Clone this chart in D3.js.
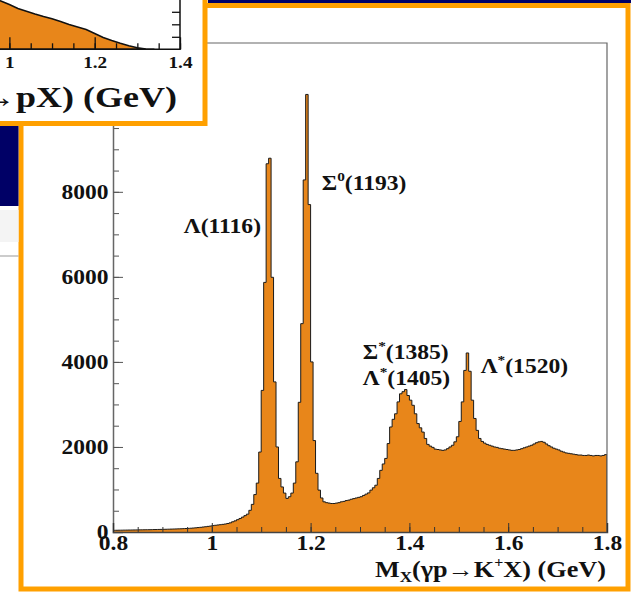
<!DOCTYPE html>
<html>
<head>
<meta charset="utf-8">
<script src="https://cdn.jsdelivr.net/npm/d3@7"></script>
<style>
body { margin: 0; background: #fff; }
svg { display: block; }
</style>
</head>
<body>
<svg id="chart" width="631" height="593"></svg>
<script>
// missing mass histogram, 5 MeV bins from 0.8 to 1.8 GeV
var binLow = 0.8, binWidth = 0.005;
var counts = [
    40, 41, 42, 43, 44, 45, 46, 47, 48, 49,
    50, 51, 52, 53, 54, 55, 57, 58, 60, 61,
    63, 64, 66, 68, 70, 72, 74, 76, 79, 82,
    85, 89, 93, 98, 104, 110, 117, 124, 132, 140,
    150, 158, 165, 172, 180, 188, 200, 215, 240, 262,
    290, 318, 350, 385, 420, 510, 650, 880, 1150, 1880,
    3330, 5870, 8660, 8790, 5990, 3530, 2000, 1260, 1060, 915,
    790, 830, 915, 1150, 1650, 3050, 4900, 8280, 10290, 7700,
    4000, 2150, 1380, 985, 800, 710, 690, 680, 670, 670,
    680, 690, 710, 720, 740, 750, 770, 785, 800, 815,
    830, 860, 890, 920, 985, 1040, 1100, 1260, 1450, 1600,
    1730, 2080, 2470, 2650, 2780, 3060, 3250, 3300, 3350, 3210,
    3100, 2980, 2780, 2550, 2450, 2350, 2200, 2060, 2020, 1990,
    1950, 1940, 1930, 1920, 1930, 1960, 2000, 2040, 2120, 2240,
    2600, 3060, 3800, 4210, 3780, 3100, 2670, 2390, 2200, 2130,
    2090, 2060, 2040, 2020, 2000, 1990, 1970, 1960, 1950, 1940,
    1930, 1920, 1920, 1930, 1940, 1960, 1980, 2000, 2020, 2040,
    2070, 2100, 2120, 2130, 2110, 2070, 2030, 2000, 1970, 1950,
    1930, 1900, 1880, 1860, 1850, 1840, 1830, 1820, 1810, 1810,
    1800, 1800, 1810, 1800, 1790, 1800, 1800, 1790, 1800, 1820
];
var xTicks = [0.8, 1, 1.2, 1.4, 1.6, 1.8];
var yTicks = [0, 2000, 4000, 6000, 8000, 10000];

// peak labels
var peakNames = ["\u039b", "\u03a3", "\u03a3", "\u039b", "\u039b"];
var peakSups = ["", "0", "*", "*", "*"];
var peakMasses = ["1116", "1193", "1385", "1405", "1520"];

// partly hidden panel behind (p X missing mass), arbitrary units
var insetMass = [0.96, 0.98, 1.00, 1.02, 1.04, 1.06, 1.08, 1.10, 1.12, 1.14, 1.16,
                 1.18, 1.20, 1.22, 1.24, 1.26, 1.28, 1.30, 1.32, 1.34];
var insetCounts = [410, 386, 358, 326, 304, 282, 262, 244, 222, 198, 178,
                   158, 126, 94, 70, 48, 28, 13, 2, 0];
var insetXTicks = [1, 1.2, 1.4];

var orange = "#e8861a",
    border = "#ffa000",
    navy = "#000066",
    serif = "'Liberation Serif', 'Times New Roman', serif";

var svg = d3.select("#chart");

// ---- main panel ----
svg.append("rect")
    .attr("x", 21).attr("y", 5.5)
    .attr("width", 607).attr("height", 583.5)
    .attr("fill", "#fff")
    .attr("stroke", border).attr("stroke-width", 5);

var x = d3.scaleLinear().domain([0.8, 1.8]).range([113, 607]),
    y = d3.scaleLinear().domain([0, 11500]).range([532, 43]);

svg.append("clipPath").attr("id", "frameClip")
    .append("rect")
    .attr("x", x.range()[0]).attr("y", y.range()[1])
    .attr("width", x.range()[1] - x.range()[0])
    .attr("height", y.range()[0] - y.range()[1]);

var pts = [[binLow, 0]];
counts.forEach(function(c, i) {
    var a = binLow + i * binWidth;
    pts.push([a, c], [a + binWidth, c]);
});
pts.push([binLow + counts.length * binWidth, 0]);

var plot = svg.append("g").attr("clip-path", "url(#frameClip)");

plot.append("path")
    .datum(pts)
    .attr("fill", orange)
    .attr("d", d3.area().x(function(d) { return x(d[0]); }).y0(y(0)).y1(function(d) { return y(d[1]); }));

plot.append("path")
    .datum(pts)
    .attr("fill", "none")
    .attr("stroke", "#1a1a1a")
    .attr("stroke-width", 1)
    .attr("d", d3.line().x(function(d) { return x(d[0]); }).y(function(d) { return y(d[1]); }));

// frame (top and right)
svg.append("path")
    .attr("fill", "none")
    .attr("stroke", "#666")
    .attr("stroke-width", 1.2)
    .attr("d", "M" + x(0.8) + "," + y(11500) + "H" + x(1.8) + "V" + y(0));

// minor ticks
var yMinor = d3.axisLeft(y).tickValues(d3.range(0, 11500, 500)).tickSize(-6).tickFormat("");
svg.append("g").attr("transform", "translate(" + x(0.8) + ",0)").call(yMinor)
    .call(function(g) { g.select(".domain").remove(); g.selectAll("line").attr("stroke", "#555"); });

var xMinor = d3.axisBottom(x).tickValues(d3.range(0.8, 1.8001, 0.05)).tickSize(-5).tickFormat("");
svg.append("g").attr("transform", "translate(0," + y(0) + ")").call(xMinor)
    .call(function(g) { g.select(".domain").remove(); g.selectAll("line").attr("stroke", "#333"); });

// major axes
var yAxis = d3.axisLeft(y).tickValues(yTicks).tickSize(-10).tickPadding(4)
    .tickFormat(function(d) { return d; });
svg.append("g").attr("transform", "translate(" + x(0.8) + ",0)").call(yAxis)
    .call(function(g) {
        g.select(".domain").attr("stroke", "#666").attr("stroke-width", 1.5);
        g.selectAll("line").attr("stroke", "#555");
        g.selectAll("text")
            .attr("font-family", serif).attr("font-weight", "bold").attr("font-size", 21)
            .attr("fill", "#111")
            .attr("transform", "scale(1.12,1)");
    });

var xAxis = d3.axisBottom(x).tickValues(xTicks).tickSize(-9).tickPadding(3)
    .tickFormat(function(d) { return d; });
svg.append("g").attr("transform", "translate(0," + y(0) + ")").call(xAxis)
    .call(function(g) {
        g.select(".domain").attr("stroke", "#444").attr("stroke-width", 1.5);
        g.selectAll("line").attr("stroke", "#333");
        g.selectAll("text")
            .attr("font-family", serif).attr("font-weight", "bold").attr("font-size", 21)
            .attr("fill", "#111")
            .attr("transform", "scale(1.12,1)");
    });

// axis title
var title = svg.append("text")
    .attr("transform", "translate(606,577) scale(1.14,1)")
    .attr("text-anchor", "end")
    .attr("font-family", serif).attr("font-weight", "bold").attr("font-size", 23)
    .attr("fill", "#111");
title.append("tspan").text("M");
title.append("tspan").attr("font-size", 15).attr("dy", 5).text("X");
title.append("tspan").attr("dy", -5).text("(\u03b3p\u2192K");
title.append("tspan").attr("font-size", 14).attr("dy", -10).text("+");
title.append("tspan").attr("dy", 10).text("X) (GeV)");

// peak labels: anchor in data coordinates
var labelAt = [
    [1.0996, 7030, "end"],
    [1.2225, 8040, "start"],
    [1.3055, 4070, "start"],
    [1.3055, 3460, "start"],
    [1.5443, 3750, "start"]
];
peakNames.forEach(function(n, i) {
    var a = labelAt[i];
    var t = svg.append("text")
        .attr("transform", "translate(" + x(a[0]) + "," + y(a[1]) + ") scale(1.18,1)")
        .attr("text-anchor", a[2])
        .attr("font-family", serif).attr("font-weight", "bold").attr("font-size", 20)
        .attr("fill", "#111");
    t.append("tspan").text(n);
    if (peakSups[i]) {
        t.append("tspan").attr("font-size", 13).attr("dy", -9).text(peakSups[i]);
        t.append("tspan").attr("dy", 9).text("(" + peakMasses[i] + ")");
    } else {
        t.append("tspan").text("(" + peakMasses[i] + ")");
    }
});

// ---- neighbouring slide pieces ----
svg.append("rect").attr("x", 208).attr("y", 0).attr("width", 423).attr("height", 3).attr("fill", navy);
svg.append("rect").attr("x", 0).attr("y", 126).attr("width", 18.5).attr("height", 80).attr("fill", navy);
svg.append("rect").attr("x", 0).attr("y", 210).attr("width", 18.5).attr("height", 32).attr("fill", "#f4f4f4");
svg.append("line").attr("x1", 0).attr("x2", 18.5).attr("y1", 256).attr("y2", 256)
    .attr("stroke", "#999").attr("stroke-width", 1);

// inset panel (covers top-left of main panel)
svg.append("rect")
    .attr("x", -10).attr("y", -10)
    .attr("width", 215).attr("height", 133.5)
    .attr("fill", "#fff")
    .attr("stroke", border).attr("stroke-width", 5);

var ix = d3.scaleLinear().domain([0.978, 1.4]).range([0, 180]),
    iy = d3.scaleLinear().domain([0, 400]).range([49.3, -0.7]);

svg.append("clipPath").attr("id", "insetClip")
    .append("rect").attr("x", 0).attr("y", 0).attr("width", 180).attr("height", 49.3);

var ig = svg.append("g");
ig.append("path")
    .datum(insetMass.map(function(m, i) { return [m, insetCounts[i]]; }))
    .attr("clip-path", "url(#insetClip)")
    .attr("fill", orange)
    .attr("stroke", "#111").attr("stroke-width", 1.5)
    .attr("d", d3.area().x(function(d) { return ix(d[0]); }).y0(iy(0)).y1(function(d) { return iy(d[1]); }));

var ixMinor = d3.axisBottom(ix).tickValues(d3.range(1, 1.4001, 0.05)).tickSize(-6).tickFormat("");
ig.append("g").attr("transform", "translate(0," + iy(0) + ")").call(ixMinor)
    .call(function(g) { g.select(".domain").remove(); g.selectAll("line").attr("stroke", "#111").attr("stroke-width", 1.3); });

var ixAxis = d3.axisBottom(ix).tickValues(insetXTicks).tickSize(-12).tickPadding(7)
    .tickFormat(function(d) { return d; });
ig.append("g").attr("transform", "translate(0," + iy(0) + ")").call(ixAxis)
    .call(function(g) {
        g.select(".domain").remove();
        g.selectAll("line").attr("stroke", "#111").attr("stroke-width", 1.3);
        g.selectAll("text")
            .attr("font-family", serif).attr("font-weight", "bold").attr("font-size", 16)
            .attr("fill", "#111")
            .attr("transform", "scale(1.2,1)");
    });

var iyAxis = d3.axisRight(iy).tickValues([100, 200, 300]).tickSize(-8).tickFormat("");
ig.append("g").attr("transform", "translate(" + ix(1.4) + ",0)").call(iyAxis)
    .call(function(g) { g.select(".domain").remove(); g.selectAll("line").attr("stroke", "#111").attr("stroke-width", 1.3); });

ig.append("path")
    .attr("fill", "none").attr("stroke", "#111").attr("stroke-width", 1.5)
    .attr("d", "M0," + iy(0) + "H" + ix(1.4) + "V0");

ig.append("text")
    .attr("transform", "translate(177,107) scale(1.2,1)")
    .attr("text-anchor", "end")
    .attr("font-family", serif).attr("font-weight", "bold").attr("font-size", 30)
    .attr("fill", "#111")
    .text("\u2192pX) (GeV)");
</script>
</body>
</html>
